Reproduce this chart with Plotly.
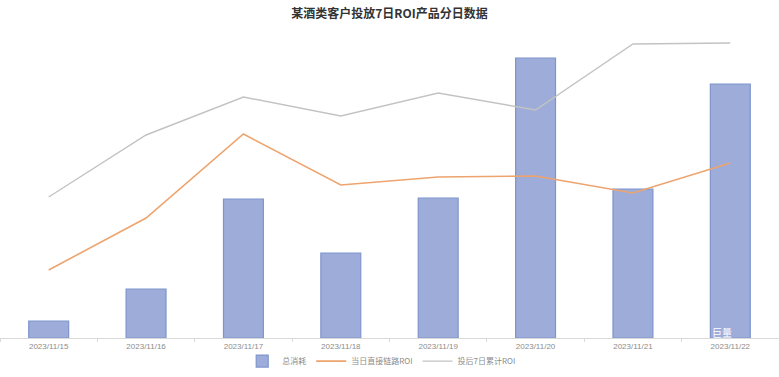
import plotly.graph_objects as go

dates = ["2023/11/15", "2023/11/16", "2023/11/17", "2023/11/18",
         "2023/11/19", "2023/11/20", "2023/11/21", "2023/11/22"]
total_spend = [17, 49, 139, 85, 140, 280, 149, 254]
roi_direct = [0.68, 1.20, 2.04, 1.53, 1.61, 1.62, 1.45, 1.75]
roi_7day = [1.41, 2.03, 2.41, 2.22, 2.45, 2.28, 2.94, 2.95]

fig = go.Figure()
fig.add_trace(go.Bar(
    x=dates, y=total_spend, name="总消耗",
    marker=dict(color="#9dacd9", line=dict(color="#7f95cc", width=1.2)),
    width=0.41,
))
fig.add_trace(go.Scatter(
    x=dates, y=roi_direct, name="当日直接链路ROI", mode="lines",
    line=dict(color="#eda46e", width=1.6), yaxis="y2",
))
fig.add_trace(go.Scatter(
    x=dates, y=roi_7day, name="投后7日累计ROI", mode="lines",
    line=dict(color="#c3c3c3", width=1.4), yaxis="y2",
))

fig.add_annotation(x=dates[-1], y=6, yref="y", text="巨量", showarrow=False,
                   font=dict(color="white", size=10, family="Noto Sans CJK SC"),
                   xshift=-8)

fig.update_layout(
    width=779, height=377,
    margin=dict(l=0, r=0, t=30, b=39),
    paper_bgcolor="white", plot_bgcolor="white",
    title=dict(text="<b>某酒类客户投放7日ROI产品分日数据</b>", x=0.5, xanchor="center",
               y=1 - 14 / 377, yanchor="middle",
               font=dict(size=12, color="#333333", family="Noto Sans CJK SC")),
    xaxis=dict(type="category", showline=True, linecolor="#d9d9d9", linewidth=1,
               ticks="outside", tickson="boundaries", ticklen=3, tickcolor="#d9d9d9",
               tickfont=dict(size=8, color="#8c8c8c", family="Liberation Sans"),
               showgrid=False),
    yaxis=dict(range=[0, 308], visible=False, showgrid=False),
    yaxis2=dict(range=[0, 3.08], overlaying="y", side="right", visible=False, showgrid=False),
    showlegend=True,
    legend=dict(orientation="h", x=0.49, xanchor="center", y=-0.075, yanchor="middle",
                bgcolor="rgba(0,0,0,0)",
                font=dict(size=8, color="#8c8c8c", family="Noto Sans CJK SC"),
                itemwidth=30, traceorder="normal"),
    bargap=0.59,
)

fig.write_html("out.html", config={"displayModeBar": False},
               post_script="document.body.style.margin='0';document.body.style.overflow='hidden';")
